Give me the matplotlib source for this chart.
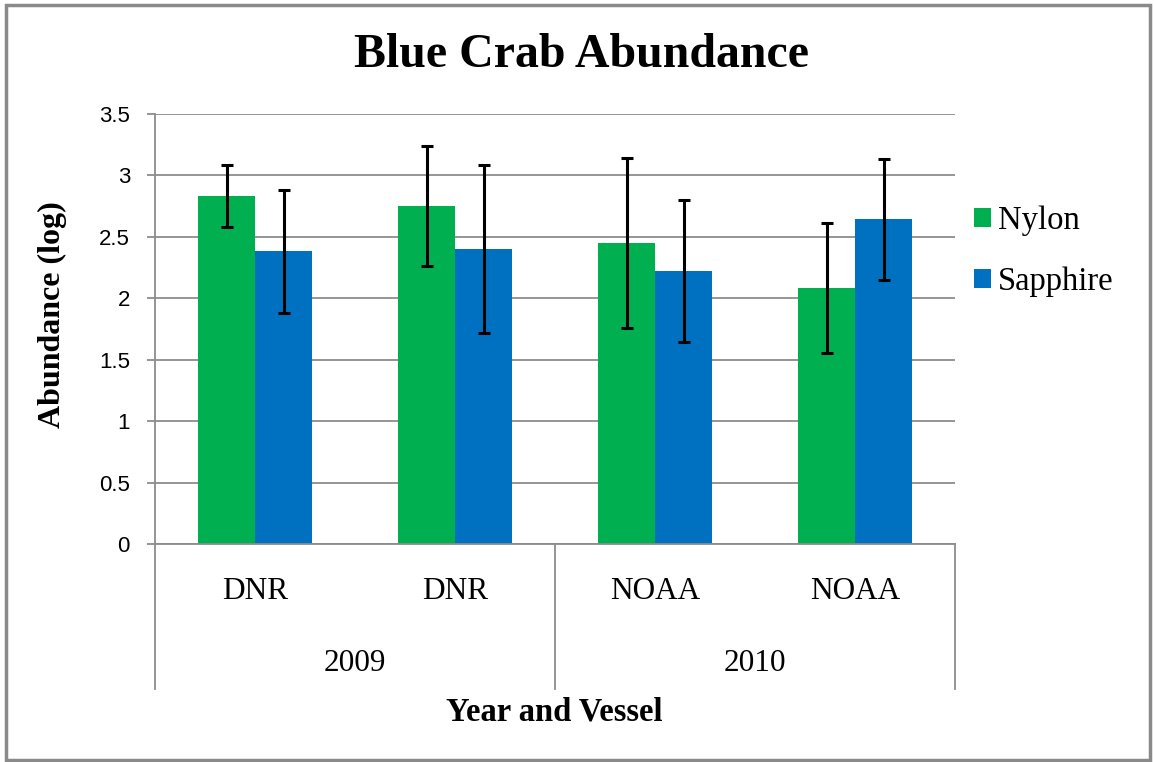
import numpy as np
import matplotlib.pyplot as plt
from matplotlib.patches import Rectangle
from matplotlib.lines import Line2D

# data
vessels = ['DNR', 'DNR', 'NOAA', 'NOAA']
years = ['2009', '2010']
nylon = [2.83, 2.75, 2.45, 2.08]
nylon_err = [0.25, 0.49, 0.69, 0.53]
sapphire = [2.38, 2.40, 2.22, 2.64]
sapphire_err = [0.50, 0.68, 0.58, 0.49]

green = '#00B050'
blue = '#0070C0'
grid_col = '#8C8C8C'
serif = 'Liberation Serif'
sans = 'Liberation Sans'

fig = plt.figure(figsize=(11.54, 7.62), dpi=100)
ax = fig.add_axes([155 / 1154, 1 - 544 / 762, 800 / 1154, (544 - 113.7) / 762])

# outer chart frame
fig.patches.append(Rectangle((6 / 1154, 2 / 762), 1144 / 1154, 755 / 762,
                             transform=fig.transFigure, fill=False,
                             edgecolor='#8A8A8A', linewidth=2.5))

x = np.arange(len(vessels))
w = 0.285
ekw = dict(ecolor='black', elinewidth=2.2, capsize=4.2, capthick=2.2)
ax.bar(x - w / 2, nylon, w, color=green, yerr=nylon_err, error_kw=ekw, label='Nylon', zorder=2)
ax.bar(x + w / 2, sapphire, w, color=blue, yerr=sapphire_err, error_kw=ekw, label='Sapphire', zorder=2)

ax.set_xlim(-0.5, len(vessels) - 0.5)
ax.set_ylim(0, 3.5)
ax.set_yticks(np.arange(0, 3.51, 0.5))
ax.set_yticklabels(['0', '0.5', '1', '1.5', '2', '2.5', '3', '3.5'], fontfamily=sans, fontsize=16)
ax.yaxis.grid(True, color=grid_col, linewidth=1.3, zorder=0)
ax.tick_params(axis='y', length=6, color=grid_col, width=1.3, pad=12)
ax.set_xticks([])
for s in ['top', 'right']:
    ax.spines[s].set_visible(False)
ax.spines['left'].set_color(grid_col)
ax.spines['bottom'].set_color(grid_col)
ax.spines['left'].set_linewidth(1.3)
ax.spines['bottom'].set_linewidth(1.3)

# two-level category axis
trans = ax.get_xaxis_transform()
for i, v in enumerate(vessels):
    ax.text(i, -0.111, v, transform=trans, ha='center', va='center',
            fontfamily=serif, fontsize=22.5)
for j, yr in enumerate(years):
    ax.text(2 * j + 0.5, -0.277, yr, transform=trans, ha='center', va='center',
            fontfamily=serif, fontsize=22.5)
for xs in [-0.5, 1.5, 3.5]:
    ax.add_line(Line2D([xs, xs], [0, -0.337], transform=trans, color=grid_col,
                       linewidth=1.3, clip_on=False))

fig.text(554 / 1154, 1 - 712 / 762, 'Year and Vessel', ha='center', va='center',
         fontfamily=serif, fontsize=23.5, fontweight='bold')
fig.text(52 / 1154, 1 - 315 / 762, 'Abundance (log)', ha='center', va='center', rotation=90,
         fontfamily=serif, fontsize=23, fontweight='bold')
fig.text(582 / 1154, 1 - 55 / 762, 'Blue Crab Abundance', ha='center', va='center',
         fontfamily=serif, fontsize=34.5, fontweight='bold')

leg = fig.legend(loc='upper left', bbox_to_anchor=(974 / 1154, 1 - 206 / 762),
                 frameon=False, prop={'family': serif, 'size': 23.5},
                 borderpad=0, borderaxespad=0,
                 handlelength=0.52, handleheight=0.52, handletextpad=0.22, labelspacing=0.93)

fig.savefig('out.png', dpi=100)
